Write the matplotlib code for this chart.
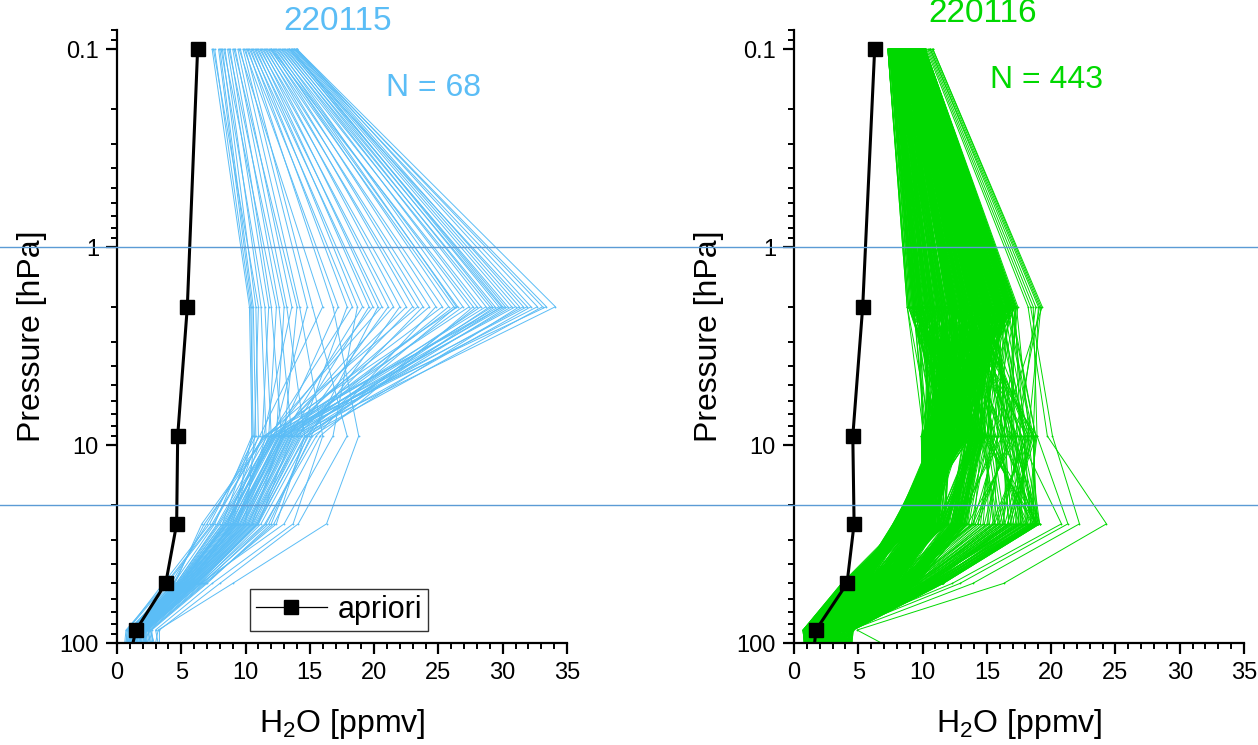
import numpy as np
import matplotlib
matplotlib.use("Agg")
import matplotlib.pyplot as plt
from matplotlib.lines import Line2D
from matplotlib import transforms
from matplotlib.ticker import MultipleLocator, LogLocator, NullFormatter

plt.rcParams['font.family'] = ['Liberation Sans', 'DejaVu Sans']
plt.rcParams['mathtext.fontset'] = 'custom'
plt.rcParams['mathtext.rm'] = 'Liberation Sans'


def vals(text):
    return np.array(text.split(), dtype=float)


# retrieval pressure levels [hPa]
levels = [0.1, 2, 9, 25, 50, 86, 100]

# a-priori profiles [ppmv] on the same levels
apriori_0115 = [6.27, 5.47, 4.72, 4.64, 3.79, 1.48, 1.24]
apriori_0116 = [6.27, 5.34, 4.57, 4.67, 4.12, 1.70, 1.60]

# reference pressure lines [hPa]
ref_pressures = [1, 20]

# ---- 220115 profiles, one value per profile at each level ----
blue_p01 = vals("""
7.4 7.6 7.9 8.0 8.2 7.5 8.4 8.1 8.6 8.8
8.3 9.0 8.7 9.2 9.4 9.1 9.6 9.8 10.0 9.5
10.2 9.9 10.4 10.1 10.6 10.3 10.8 10.5 11.0 10.7
11.2 10.9 11.4 11.1 11.6 11.3 11.8 11.5 12.0 11.7
12.2 11.9 12.4 12.1 12.6 12.3 12.8 12.5 13.0 12.7
13.2 12.9 13.4 13.1 13.5 13.3 13.6 13.7 13.8 13.9
13.4 14.0 13.8 14.0 13.9 14.0 13.6 12.0
""")
blue_p2 = vals("""
10.3 10.4 10.5 10.6 10.8 11.0 11.2 11.5 11.8 12.0
12.4 12.6 13.0 13.2 13.6 14.0 14.2 14.8 15.2 16.0
16.8 17.2 17.9 18.3 18.7 19.1 19.6 19.9 20.3 20.6
21.1 21.5 22.0 22.5 23.0 23.4 23.8 24.3 24.8 25.3
25.8 26.2 26.4 26.5 26.9 27.4 28.0 28.3 28.7 29.0
29.2 29.4 29.7 29.9 30.2 30.4 30.7 31.0 31.3 31.6
31.9 32.2 32.7 33.1 33.4 34.1 30.0 27.7
""")
blue_p9 = vals("""
10.5 10.6 10.5 10.8 11.0 10.7 11.6 12.0 11.3 12.8
11.8 13.6 12.4 14.6 11.4 13.0 16.0 12.2 17.9 11.1
18.8 12.6 14.2 11.9 16.8 12.9 13.4 12.1 15.1 11.7
13.8 12.5 14.8 12.3 13.2 11.5 14.0 12.7 15.5 12.0
13.5 12.8 14.4 11.6 13.1 12.2 14.9 13.3 12.4 13.9
12.9 14.6 11.9 13.6 12.6 14.1 13.0 12.3 15.2 13.4
12.7 14.3 13.0 14.7 12.1 13.7 11.4 15.8
""")
blue_p25 = vals("""
7.6 8.2 9.0 7.2 8.6 10.0 9.4 7.9 8.8 10.5
9.2 11.0 8.4 12.4 7.4 9.8 13.7 8.0 14.1 7.0
16.3 9.6 10.9 8.3 13.0 9.1 10.2 8.7 11.8 7.8
10.6 9.3 12.0 8.5 9.9 6.6 10.4 9.0 11.5 8.6
10.0 9.4 10.8 6.8 9.7 8.9 11.2 9.5 8.8 10.3
9.2 11.0 8.2 10.1 9.0 10.7 9.6 8.4 11.6 9.8
9.1 10.5 9.3 10.9 8.6 10.2 7.5 12.2
""")
blue_p50 = vals("""
4.4 4.8 5.2 3.6 5.0 5.6 5.4 4.6 5.8 6.0
4.9 6.3 5.1 6.8 3.8 5.7 7.4 4.7 8.0 4.2
9.0 5.5 6.2 5.0 6.5 5.3 5.9 4.9 6.6 4.6
6.1 5.4 7.0 4.8 5.6 4.5 6.0 5.2 6.4 4.9
5.8 5.5 6.2 4.4 5.6 5.1 6.5 5.3 5.0 5.9
5.4 6.3 4.7 5.7 5.2 6.1 5.5 4.8 6.7 5.6
5.1 6.0 5.3 6.2 4.9 5.8 3.9 6.9
""")
blue_p86 = vals("""
1.0 1.2 1.4 0.8 1.6 1.8 1.3 1.1 2.0 1.5
0.9 2.3 1.7 2.6 0.7 1.9 3.0 1.2 3.3 1.0
3.2 1.4 2.1 1.3 2.4 1.6 1.8 1.1 2.2 1.0
2.0 1.5 2.7 1.2 1.7 0.9 2.0 1.4 2.3 1.3
1.8 1.5 2.1 1.0 1.6 1.3 2.4 1.5 1.2 1.9
1.4 2.2 1.1 1.7 1.3 2.0 1.6 1.1 2.5 1.8
1.4 2.1 1.5 2.2 1.2 1.9 0.8 2.6
""")
blue_p100 = vals("""
0.9 1.1 1.3 0.7 1.5 1.7 1.2 1.0 2.2 1.4
0.8 2.5 1.6 2.9 0.6 1.8 3.2 1.1 3.3 1.0
3.0 1.3 2.0 1.2 2.6 1.5 1.9 1.0 2.4 0.9
2.1 1.4 2.8 1.1 1.6 0.8 1.9 1.3 2.2 1.2
1.7 1.6 2.3 0.9 1.5 1.2 2.6 1.4 1.1 1.8
1.3 2.1 1.0 1.8 1.2 2.2 1.5 1.0 2.7 1.7
1.3 2.0 1.6 2.3 1.1 1.8 0.7 2.8
""")

# ---- 220116 profiles, one value per profile at each level ----
green_p01 = vals("""
7.3 7.5 7.4 7.6 7.3 7.5 7.4 7.6 7.3 7.4 7.5 7.6 7.4 7.3 7.5 7.6 7.4 7.5 7.3 7.6
7.5 7.6 7.7 7.5 7.8 7.6 7.5 7.7 7.6 7.8 7.5 7.7 7.6 7.5 7.8 7.7 7.6 7.5 7.7 7.8
7.7 7.9 7.8 7.6 7.9 7.7 8.0 7.8 7.6 7.9 7.7 7.8 8.0 7.7 7.9 7.6 7.8 8.0 7.7 7.9
7.9 8.0 8.1 7.8 8.0 8.2 7.9 8.1 7.8 8.0 7.9 8.2 8.1 7.8 8.0 7.9 8.1 8.2 7.9 8.0
8.0 8.2 8.1 8.3 7.9 8.2 8.0 8.3 8.1 8.2 8.0 7.9 8.3 8.1 8.2 8.0 8.3 8.1 7.9 8.2
8.2 8.4 8.3 8.1 8.4 8.2 8.3 8.5 8.1 8.3 8.4 8.2 8.5 8.3 8.1 8.4 8.2 8.5 8.3 8.4
8.3 8.5 8.6 8.4 8.3 8.6 8.5 8.4 8.6 8.3 8.5 8.4 8.6 8.5 8.3 8.4 8.6 8.5 8.4 8.3
8.5 8.7 8.6 8.4 8.8 8.6 8.5 8.7 8.4 8.6 8.8 8.5 8.7 8.6 8.4 8.7 8.5 8.8 8.6 8.5
8.6 8.8 8.7 8.9 8.6 8.8 8.7 8.9 8.6 8.7 8.8 8.9 8.6 8.7 8.8 8.6 8.9 8.7 8.8 8.6
8.8 9.0 8.9 8.7 9.0 8.8 9.1 8.9 8.8 9.0 8.7 8.9 9.1 8.8 9.0 8.9 8.7 9.1 8.9 9.0
8.9 9.1 9.2 9.0 8.9 9.2 9.1 9.0 9.2 8.9 9.1 9.0 9.2 9.1 8.9 9.0 9.2 9.1 9.0 8.9
9.1 9.3 9.2 9.4 9.1 9.3 9.2 9.4 9.1 9.2 9.3 9.1 9.4 9.2 9.3 9.1 9.4 9.2 9.3 9.1
9.3 9.5 9.4 9.2 9.5 9.3 9.4 9.6 9.2 9.4 9.5 9.3 9.6 9.4 9.2 9.5 9.3 9.6 9.4 9.5
9.4 9.6 9.7 9.5 9.4 9.7 9.6 9.5 9.7 9.4 9.6 9.5 9.7 9.6 9.4 9.5 9.7 9.6 9.5 9.4
9.6 9.8 9.7 9.5 9.9 9.7 9.6 9.8 9.5 9.7 9.9 9.6 9.8 9.7 9.5 9.8 9.6 9.9 9.7 9.6
9.7 9.9 9.8 10.0 9.7 9.9 9.8 10.0 9.7 9.8 9.9 10.0 9.7 9.8 9.9 9.7 10.0 9.8 9.9 9.7
9.9 10.1 10.0 9.8 10.1 9.9 10.2 10.0 9.9 10.1 9.8 10.0 10.2 9.9 10.1 10.0 9.8 10.2 10.0 10.1
10.0 10.2 10.1 10.0 10.2 10.1 10.0 10.2 10.1 10.0 10.2 10.1 10.0 10.2 10.1 10.0 10.2 10.1 10.0 10.2
8.6 9.4 8.9 9.8 9.1 8.7 10.0 9.3 8.8 9.6 9.2 9.9 8.7 9.5 10.1 8.9 9.7 9.0 9.4 10.2
9.0 9.7 8.6 10.1 9.3 8.8 9.9 9.5 9.1 9.8 8.7 10.0 9.2 9.6 8.9 9.4 10.2 8.8 9.7 9.3
9.5 8.8 9.9 9.2 10.0 9.1 8.6 9.7 9.4 10.2 8.9 9.3 9.8 8.7 9.6 10.1 9.0 9.5 8.8 9.9
9.2 10.0 8.7 9.6 9.1 9.8 8.9 10.1 9.4 8.6 9.7 9.0 10.2 9.3 9.5
10.3 10.4 10.5 10.6 10.6 10.7 10.8 10.8
""")
green_p2 = vals("""
8.8 9.3 9.0 9.5 8.9 9.2 9.6 9.1 8.8 9.4 9.0 9.5 9.2 8.9 9.3 9.6 9.1 9.4 8.9 9.2
9.3 9.8 9.5 10.0 9.4 9.7 9.3 9.9 9.6 10.0 9.4 9.8 9.5 9.3 9.9 9.6 10.0 9.4 9.7 9.8
9.7 10.2 9.9 10.4 9.8 10.1 10.5 9.7 10.3 10.0 9.8 10.4 10.1 9.9 10.2 10.5 9.7 10.0 10.3 9.8
10.2 10.6 10.4 10.9 10.3 10.7 10.2 10.8 10.5 10.9 10.3 10.6 10.4 10.2 10.8 10.5 10.9 10.3 10.7 10.6
10.6 11.1 10.8 11.3 10.7 11.0 11.4 10.6 11.2 10.9 10.7 11.3 11.0 10.8 11.1 11.4 10.6 10.9 11.2 10.7
11.1 11.5 11.3 11.8 11.2 11.6 11.1 11.7 11.4 11.8 11.2 11.5 11.3 11.1 11.7 11.4 11.8 11.2 11.6 11.5
11.5 12.0 11.7 12.2 11.6 11.9 12.3 11.5 12.1 11.8 11.6 12.2 11.9 11.7 12.0 12.3 11.5 11.8 12.1 11.6
12.0 12.4 12.2 12.7 12.1 12.5 12.0 12.6 12.3 12.7 12.1 12.4 12.2 12.0 12.6 12.3 12.7 12.1 12.5 12.4
12.4 12.9 12.6 13.1 12.5 12.8 13.2 12.4 13.0 12.7 12.5 13.1 12.8 12.6 12.9 13.2 12.4 12.7 13.0 12.5
12.9 13.3 13.1 13.6 13.0 13.4 12.9 13.5 13.2 13.6 13.0 13.3 13.1 12.9 13.5 13.2 13.6 13.0 13.4 13.3
13.3 13.8 13.5 14.0 13.4 13.7 14.1 13.3 13.9 13.6 13.4 14.0 13.7 13.5 13.8 14.1 13.3 13.6 13.9 13.4
13.8 14.2 14.0 14.5 13.9 14.3 13.8 14.4 14.1 14.5 13.9 14.2 14.0 13.8 14.4 14.1 14.5 13.9 14.3 14.2
14.2 14.7 14.4 14.9 14.3 14.6 15.0 14.2 14.8 14.5 14.3 14.9 14.6 14.4 14.7 15.0 14.2 14.5 14.8 14.3
14.7 15.1 14.9 15.4 14.8 15.2 14.7 15.3 15.0 15.4 14.8 15.1 14.9 14.7 15.3 15.0 15.4 14.8 15.2 15.1
15.1 15.6 15.3 15.8 15.2 15.5 15.9 15.1 15.7 15.4 15.2 15.8 15.5 15.3 15.6 15.9 15.1 15.4 15.7 15.2
15.6 16.0 15.8 16.3 15.7 16.1 15.6 16.2 15.9 16.3 15.7 16.0 15.8 15.6 16.2 15.9 16.3 15.7 16.1 16.0
16.0 16.5 16.2 16.7 16.1 16.4 16.8 16.0 16.6 16.3 16.1 16.7 16.4 16.2 16.5 16.8 16.0 16.3 16.6 16.1
16.5 16.9 16.7 17.2 16.6 17.0 16.5 17.1 16.8 17.2 16.6 16.9 16.7 16.5 17.1 16.8 17.2 16.6 17.0 16.9
12.3 15.0 13.1 16.2 13.9 12.6 16.9 14.4 12.9 15.7 14.1 16.5 12.1 15.3 17.2 13.4 16.0 13.6 14.7 17.4
13.7 15.8 12.0 17.0 14.6 13.0 16.6 15.1 14.0 16.3 12.4 16.8 14.3 15.5 13.3 14.8 17.3 12.7 16.1 14.5
15.2 12.8 16.4 14.2 17.1 13.8 12.2 15.9 14.9 17.2 13.2 14.4 16.2 12.5 15.6 16.9 13.5 15.0 12.9 16.7
14.0 16.8 12.6 15.4 13.9 16.1 13.1 17.0 14.6 12.3 15.8 13.7 17.3 14.3 15.1
18.2 18.4 18.6 18.8 19.0 19.1 19.2 19.3
""")
green_p9 = vals("""
10.1 11.6 12.3 10.4 13.1 11.0 12.8 14.2 10.7 12.0 13.6 11.3 14.6 12.6 10.2 13.4 11.8 14.0 12.2 11.1
10.3 11.9 12.0 10.6 13.4 10.8 13.1 13.9 10.9 12.3 13.3 11.5 14.4 12.9 10.0 13.7 11.6 14.3 12.5 11.4
10.0 11.3 12.6 10.2 12.8 11.3 12.5 14.5 10.5 11.7 13.9 11.1 14.8 12.3 10.4 13.1 12.1 13.7 11.9 10.9
10.5 11.8 12.4 10.8 13.3 11.2 13.0 14.0 11.0 12.2 13.8 11.6 14.5 12.8 10.3 13.6 12.0 14.2 12.4 11.3
10.2 11.4 12.1 10.3 12.9 10.9 12.6 14.4 10.6 11.9 13.5 11.2 14.7 12.4 10.1 13.2 11.7 13.9 12.0 11.0
10.4 11.7 12.5 10.5 13.2 11.1 12.9 14.1 10.8 12.1 13.7 11.4 14.3 12.7 10.5 13.5 11.9 14.1 12.3 11.2
9.9 11.5 12.2 10.7 13.0 11.4 12.7 14.3 10.4 12.4 13.4 11.0 14.6 12.5 10.2 13.3 12.2 13.8 12.1 11.5
10.6 11.2 12.7 10.1 13.5 10.7 13.2 14.6 11.1 11.8 14.0 11.7 14.2 13.0 10.0 13.0 11.5 14.4 12.6 10.8
10.1 11.9 12.0 10.4 12.7 11.2 12.4 13.8 10.7 12.2 13.2 11.3 14.9 12.2 10.6 13.8 11.9 14.0 11.8 11.3
10.3 11.6 12.4 10.9 13.3 11.0 13.0 14.2 10.5 12.0 13.6 11.5 14.5 12.7 10.3 13.4 11.7 13.6 12.4 11.0
10.0 11.4 12.8 10.3 13.0 10.8 12.6 14.5 10.9 11.6 13.9 11.1 14.7 12.4 10.1 13.1 12.0 14.3 12.2 11.4
10.5 11.8 12.2 10.6 13.4 11.3 12.9 14.0 10.6 12.3 13.5 11.6 14.4 12.9 10.4 13.6 11.8 14.1 12.0 11.2
10.2 11.5 12.5 10.2 12.8 11.1 12.7 14.3 10.8 11.9 13.7 11.2 14.6 12.6 9.9 13.3 12.1 13.9 12.5 10.9
10.4 11.7 12.1 10.7 13.2 10.9 13.1 14.1 10.4 12.1 13.3 11.4 14.8 12.3 10.2 13.5 11.6 14.2 12.3 11.3
10.1 11.3 12.6 10.5 13.1 11.4 12.5 14.4 11.0 11.8 13.8 11.0 14.3 12.8 10.5 13.2 11.9 14.0 11.9 11.1
10.6 11.9 12.3 10.3 12.9 11.0 12.8 14.6 10.7 12.4 13.6 11.7 14.5 12.5 10.0 13.7 12.2 13.7 12.6 11.5
10.3 11.6 12.7 10.8 13.3 11.2 13.0 13.9 10.5 12.0 14.0 11.3 14.7 13.0 10.3 13.0 11.7 14.4 12.2 10.8
10.0 11.5 12.0 10.4 13.0 10.8 12.6 14.2 10.9 12.2 13.4 11.5 14.4 12.7 10.1 13.4 12.0 14.1 12.1 11.2
14.6 15.3 16.1 17.4 18.2 14.9 18.8 16.7 15.6 17.9 16.4 18.5 15.0 17.1 16.9 14.7 18.0 15.9 17.6 16.3
14.9 15.0 16.5 17.1 18.5 15.2 18.6 17.0 15.3 18.2 16.1 18.8 15.4 16.8 17.2 14.5 18.3 15.6 17.9 16.6
15.1 15.7 15.8 17.7 17.9 14.6 18.9 16.4 15.9 17.6 16.8 18.2 14.8 17.4 16.6 15.0 17.7 16.2 17.3 16.0
14.8 15.5 16.3 17.2 18.4 15.1 18.7 16.9 15.4 18.1 16.2 18.6 15.2 16.9 17.0
19.7 20.1 18.9 17.5 18.6 17.2 18.2 16.1
""")
green_p25 = vals("""
10.4 7.8 8.6 9.9 9.4 10.8 8.1 11.5 10.1 9.1 12.2 8.3 13.0 10.5 10.0 8.9 11.2 12.6 9.6 7.9
10.7 8.2 8.9 10.3 9.0 11.2 8.5 11.1 10.5 9.5 12.6 8.7 13.4 10.1 10.4 9.3 10.8 13.0 9.9 8.3
10.1 7.7 8.3 9.6 9.8 10.4 8.0 11.9 9.8 8.8 11.8 8.1 12.6 10.9 9.7 8.6 11.6 12.2 9.3 8.0
10.9 8.4 9.1 10.2 9.6 11.0 8.7 11.7 10.3 9.4 12.4 8.5 13.2 10.7 10.2 9.1 11.4 12.9 9.8 8.2
10.2 7.9 8.5 9.7 9.2 10.6 8.2 11.3 9.9 9.0 12.0 8.0 12.8 10.3 9.9 8.8 11.0 12.4 9.5 7.8
10.6 8.1 8.8 10.1 9.5 10.9 8.4 11.6 10.2 9.3 12.3 8.4 13.1 10.6 10.1 9.0 11.3 12.7 9.7 8.1
10.0 7.7 8.4 9.5 9.9 11.3 7.9 11.8 10.6 9.2 12.7 8.2 12.9 10.4 10.5 8.7 11.7 12.5 9.4 8.4
10.8 8.3 9.0 10.4 9.1 10.5 8.6 11.2 9.7 8.9 11.9 8.8 13.3 10.8 9.8 9.2 10.9 12.8 10.0 7.9
10.3 8.0 8.7 9.8 9.7 11.1 8.3 11.4 10.0 9.6 12.1 8.3 12.7 10.2 10.3 8.9 11.5 12.3 9.6 8.2
10.5 7.8 8.5 10.0 9.3 10.7 8.0 11.9 10.4 9.1 12.5 8.6 13.5 10.9 10.0 8.6 11.1 12.9 9.2 8.0
10.1 8.2 8.9 9.6 9.6 10.8 8.5 11.5 9.9 8.8 12.2 8.1 13.0 10.5 9.7 9.4 11.8 12.6 9.9 8.3
10.7 7.9 8.4 10.3 9.2 11.2 8.2 11.1 10.3 9.4 11.8 8.5 12.8 10.1 10.4 8.8 11.0 13.1 9.5 7.8
10.4 8.1 8.7 9.9 9.8 10.6 7.9 11.7 10.7 9.0 12.4 8.7 13.3 10.7 10.1 9.1 11.4 12.2 9.8 8.1
10.0 7.7 8.6 10.1 9.4 11.0 8.4 11.3 10.1 9.5 12.0 8.0 12.9 10.3 9.8 8.7 11.2 12.7 9.3 8.4
10.9 8.3 8.8 9.7 9.0 10.9 8.1 11.8 9.8 9.2 12.6 8.4 13.2 10.8 10.2 9.0 10.8 12.4 10.0 7.9
10.2 8.0 8.3 10.2 9.7 10.5 8.6 11.4 10.5 8.9 12.3 8.2 12.6 10.4 10.0 9.3 11.6 12.8 9.6 8.2
10.6 7.8 9.0 9.8 9.5 11.3 8.0 11.6 10.2 9.3 11.9 8.6 13.4 10.6 10.4 8.8 11.3 12.5 9.4 8.0
10.3 8.2 8.5 10.0 9.3 10.7 8.3 11.2 10.0 9.1 12.5 8.3 13.1 10.2 9.9 8.9 11.1 13.0 9.7 8.3
18.8 17.9 15.2 19.0 16.4 13.6 18.4 17.3 14.3 15.8 18.6 17.0 16.0 13.9 19.1 15.5 17.6 12.8 18.1 16.7
18.5 18.2 14.8 18.7 16.8 13.2 18.8 17.7 14.7 15.4 18.9 16.6 16.4 14.3 18.9 15.9 17.2 13.2 18.4 16.3
18.9 17.5 15.6 19.1 16.0 14.0 18.1 16.9 13.9 16.2 18.3 17.4 15.6 13.5 18.7 15.1 18.0 12.6 17.8 17.1
18.6 18.0 15.0 18.8 16.6 13.8 18.6 17.5 14.5 15.6 18.8 16.8 16.2 14.1 19.0
24.3 22.2 21.3 20.8 18.9 17.6 19.1 16.7
""")
green_p50 = vals("""
6.2 5.0 3.8 7.1 4.4 8.0 5.6 6.6 7.6 4.1 8.5 5.3 9.2 6.9 5.9 4.7 7.3 8.8 6.0 4.9
6.5 5.3 4.1 7.4 4.2 8.3 5.9 6.3 7.9 4.4 8.8 5.6 9.5 6.6 6.2 5.0 7.0 9.1 6.3 5.2
5.9 4.8 3.7 6.8 4.7 7.7 5.4 6.9 7.3 3.9 8.2 5.1 8.9 7.2 5.6 4.5 7.6 8.5 5.8 4.7
6.4 5.2 4.0 7.3 4.5 8.2 5.8 6.8 7.8 4.3 8.7 5.5 9.3 7.0 6.1 4.9 7.4 9.0 6.2 5.1
6.0 4.9 3.9 6.9 4.3 7.8 5.5 6.4 7.4 4.0 8.3 5.2 9.0 6.7 5.7 4.6 7.1 8.6 5.9 4.8
6.3 5.1 4.2 7.2 4.6 8.1 5.7 6.7 7.7 4.2 8.6 5.4 9.4 6.8 6.0 4.8 7.2 8.9 6.1 5.0
6.6 4.8 3.8 7.5 4.8 8.4 5.3 6.5 8.0 4.5 8.4 5.0 9.1 7.3 5.8 5.1 7.7 8.7 5.7 5.3
5.8 5.4 4.3 6.7 4.1 7.6 6.0 7.0 7.2 3.9 8.9 5.7 9.6 6.5 6.3 4.4 6.9 9.2 6.4 4.6
6.1 5.1 3.9 7.0 4.5 8.1 5.5 6.7 7.5 4.2 8.4 5.4 9.1 6.9 6.0 4.8 7.3 8.7 6.1 4.9
6.4 4.9 4.0 7.4 4.3 7.9 5.8 6.4 7.8 4.0 8.7 5.2 9.4 6.7 5.7 4.6 7.5 9.0 5.8 5.1
6.0 5.2 3.8 6.9 4.6 8.3 5.4 6.8 7.4 4.4 8.3 5.5 9.0 7.1 6.1 4.9 7.1 8.6 6.2 4.7
6.5 5.3 4.1 7.2 4.2 7.7 5.9 6.5 7.9 4.1 8.8 5.1 9.3 6.8 5.8 4.5 7.4 8.9 5.9 5.2
5.9 4.8 3.9 7.3 4.7 8.2 5.6 6.9 7.6 4.3 8.6 5.6 9.5 7.0 6.2 5.0 7.2 8.5 6.3 4.8
6.3 5.1 4.2 6.8 4.4 8.0 5.3 6.3 7.3 3.9 8.4 5.4 8.9 6.6 5.9 4.7 7.6 9.1 6.0 5.0
6.2 5.0 3.7 7.1 4.5 8.4 5.7 6.7 7.7 4.2 8.9 5.2 9.2 7.2 5.6 4.8 7.0 8.8 5.8 4.9
6.6 5.4 4.0 7.5 4.3 7.8 5.5 6.6 8.0 4.0 8.5 5.7 9.6 6.9 6.1 4.6 7.3 8.7 6.2 5.3
6.1 4.9 3.8 7.0 4.6 8.1 5.8 6.4 7.5 4.4 8.2 5.3 9.1 6.7 6.0 4.9 7.7 9.0 6.1 4.7
6.4 5.2 4.1 7.2 4.4 7.9 5.6 6.8 7.8 4.1 8.7 5.5 9.3 7.0 5.8 4.7 7.1 8.6 5.9 5.1
11.2 10.6 9.4 11.5 10.1 8.2 11.0 10.4 8.8 9.7 11.4 10.3 9.9 8.0 11.6 9.1 10.8 7.6 10.5 9.6
10.9 10.9 9.1 11.2 10.4 8.5 11.3 10.1 9.1 9.4 11.1 10.6 10.2 8.3 11.3 9.4 10.5 7.9 10.8 9.3
11.4 10.3 9.7 11.6 9.8 7.9 10.7 10.7 8.5 10.0 11.5 10.0 9.6 7.7 11.5 8.8 11.1 7.5 10.2 9.9
11.0 10.7 9.2 11.3 10.2 8.4 11.2 10.2 9.0 9.5 11.3 10.4 10.0 8.2 11.4
16.3 13.9 12.9 12.3 11.4 10.8 11.6 10.2
""")
green_p86 = vals("""
2.0 1.4 0.8 2.6 1.1 3.0 1.7 2.3 2.8 1.0 3.2 1.6 3.4 2.2 1.9 1.3 2.5 3.1 1.5 1.2
2.2 1.6 1.0 2.4 1.3 2.8 1.9 2.1 3.0 0.9 3.4 1.4 3.2 2.4 1.7 1.5 2.7 2.9 1.7 1.0
1.8 1.2 0.7 2.8 1.0 3.2 1.5 2.5 2.6 1.2 3.0 1.8 3.5 2.0 2.1 1.1 2.3 3.3 1.3 1.4
2.1 1.5 0.9 2.5 1.2 2.9 1.8 2.4 2.9 1.1 3.3 1.5 3.3 2.3 1.8 1.4 2.6 3.0 1.6 1.1
1.9 1.3 0.8 2.7 1.0 3.1 1.6 2.2 2.7 0.9 3.1 1.7 3.5 2.1 2.0 1.2 2.4 3.2 1.4 1.3
2.3 1.4 1.1 2.6 1.4 3.0 1.7 2.0 2.8 1.0 3.2 1.6 3.1 2.5 1.9 1.6 2.8 3.1 1.8 1.2
1.7 1.6 0.7 2.9 1.1 2.7 2.0 2.6 3.1 1.3 3.4 1.3 3.4 1.9 1.6 1.3 2.2 2.8 1.5 0.9
2.0 1.1 0.9 2.3 1.2 3.3 1.4 2.3 2.5 0.8 2.9 1.9 3.2 2.2 2.2 1.0 2.5 3.4 1.2 1.5
2.2 1.5 0.8 2.6 0.9 3.0 1.8 2.4 2.8 1.1 3.2 1.5 3.5 2.3 1.8 1.4 2.6 3.0 1.6 1.1
1.8 1.3 1.0 2.7 1.3 2.8 1.6 2.1 3.0 1.0 3.3 1.7 3.3 2.0 2.0 1.2 2.4 3.2 1.4 1.3
2.1 1.4 0.7 2.5 1.1 3.1 1.9 2.5 2.6 0.9 3.0 1.6 3.4 2.4 1.7 1.5 2.7 2.9 1.7 1.0
1.9 1.7 0.9 2.8 1.0 2.9 1.5 2.2 2.9 1.2 3.4 1.4 3.2 2.1 2.1 1.1 2.3 3.3 1.3 1.4
2.3 1.2 0.8 2.4 1.4 3.2 1.7 2.0 2.7 1.0 3.1 1.8 3.5 2.5 1.9 1.3 2.8 3.0 1.8 1.2
1.7 1.5 1.1 2.9 1.2 3.0 2.0 2.6 3.1 0.8 3.2 1.5 3.1 2.2 1.6 1.6 2.5 3.1 1.5 0.9
2.0 1.4 0.7 2.6 1.0 2.7 1.6 2.3 2.8 1.1 2.9 1.6 3.4 1.9 2.2 1.2 2.2 3.4 1.6 1.1
2.2 1.3 0.9 2.5 1.3 3.3 1.8 2.4 2.5 1.0 3.3 1.9 3.3 2.3 1.8 1.4 2.6 2.8 1.4 1.3
1.8 1.6 0.8 2.7 1.1 3.0 1.5 2.1 3.0 1.2 3.1 1.4 3.5 2.0 2.0 1.0 2.4 3.2 1.7 1.0
2.1 1.2 1.0 2.8 1.2 2.9 1.9 2.5 2.9 0.9 3.4 1.7 3.2 2.4 1.7 1.5 2.7 3.0 1.3 1.4
4.3 4.0 3.4 4.5 3.8 2.9 4.2 3.9 3.1 3.6 4.4 3.7 3.5 2.8 4.6 3.3 4.1 2.6 4.0 3.5
4.1 4.2 3.2 4.4 4.0 3.1 4.4 3.7 3.3 3.4 4.2 3.9 3.7 3.0 4.5 3.5 3.9 2.8 4.2 3.3
4.5 3.8 3.6 4.6 3.6 2.7 4.0 4.1 2.9 3.8 4.5 3.5 3.3 2.6 4.4 3.1 4.3 2.5 3.8 3.7
4.2 4.1 3.3 4.3 3.9 3.0 4.3 3.8 3.2 3.5 4.3 3.8 3.6 2.9 4.6
4.9 4.4 3.9 3.6 3.2 3.0 3.4 2.8
""")
green_p100 = vals("""
2.1 1.3 0.9 2.8 1.2 3.3 1.6 2.4 2.6 1.1 3.5 1.8 3.9 2.0 2.2 1.4 2.7 3.0 1.7 1.0
2.3 1.5 1.1 2.6 1.4 3.1 1.8 2.2 2.8 1.0 3.7 1.6 3.7 2.2 2.0 1.6 2.9 2.8 1.9 0.9
1.9 1.1 0.8 3.0 1.1 3.5 1.4 2.6 2.4 1.3 3.3 2.0 4.1 1.8 2.4 1.2 2.5 3.2 1.5 1.2
2.2 1.4 1.0 2.7 1.3 3.2 1.7 2.5 2.7 1.2 3.6 1.7 3.8 2.1 2.1 1.5 2.8 2.9 1.8 1.1
2.0 1.2 0.9 2.9 1.1 3.4 1.5 2.3 2.5 1.0 3.4 1.9 4.0 1.9 2.3 1.3 2.6 3.1 1.6 1.0
2.4 1.3 1.2 2.8 1.5 3.3 1.6 2.1 2.6 1.1 3.5 1.8 3.6 2.3 2.2 1.7 3.0 3.0 2.0 1.2
1.8 1.5 0.8 3.1 1.2 3.0 1.9 2.7 2.9 1.4 3.8 1.5 3.9 1.7 1.9 1.4 2.4 2.7 1.7 0.8
2.1 1.0 1.0 2.5 1.3 3.6 1.3 2.4 2.3 0.9 3.2 2.1 3.7 2.0 2.5 1.1 2.7 3.3 1.4 1.4
2.3 1.4 0.9 2.8 1.0 3.3 1.7 2.5 2.6 1.2 3.5 1.7 4.0 2.1 2.1 1.5 2.8 2.9 1.8 1.0
1.9 1.2 1.1 2.9 1.4 3.1 1.5 2.2 2.8 1.1 3.6 1.9 3.8 1.8 2.3 1.3 2.6 3.1 1.6 1.2
2.2 1.3 0.8 2.7 1.2 3.4 1.8 2.6 2.4 1.0 3.3 1.8 3.9 2.2 2.0 1.6 2.9 2.8 1.9 0.9
2.0 1.6 1.0 3.0 1.1 3.2 1.4 2.3 2.7 1.3 3.7 1.6 3.7 1.9 2.4 1.2 2.5 3.2 1.5 1.3
2.4 1.1 0.9 2.6 1.5 3.5 1.6 2.1 2.5 1.1 3.4 2.0 4.1 2.3 2.2 1.4 3.0 2.9 2.0 1.1
1.8 1.4 1.2 3.1 1.3 3.3 1.9 2.7 2.9 0.9 3.5 1.7 3.6 2.0 1.9 1.7 2.7 3.0 1.7 0.8
2.1 1.3 0.8 2.8 1.1 3.0 1.5 2.4 2.6 1.2 3.2 1.8 3.9 1.7 2.5 1.3 2.4 3.3 1.8 1.0
2.3 1.2 1.0 2.7 1.4 3.6 1.7 2.5 2.3 1.1 3.6 2.1 3.8 2.1 2.1 1.5 2.8 2.7 1.6 1.2
1.9 1.5 0.9 2.9 1.2 3.3 1.4 2.2 2.8 1.3 3.4 1.6 4.0 1.8 2.3 1.1 2.6 3.1 1.9 0.9
2.2 1.1 1.1 3.0 1.3 3.2 1.8 2.6 2.7 1.0 3.7 1.9 3.7 2.2 2.0 1.6 2.9 2.9 1.5 1.3
4.0 3.8 3.5 4.3 3.6 3.1 4.4 4.1 3.3 3.4 4.2 3.9 3.7 3.0 4.5 3.2 3.9 2.8 4.2 3.6
3.8 4.0 3.3 4.1 3.8 3.3 4.2 3.9 3.5 3.2 4.0 4.1 3.9 3.2 4.4 3.4 3.7 3.0 4.4 3.4
4.2 3.6 3.7 4.4 3.4 2.9 4.5 4.3 3.1 3.6 4.4 3.7 3.5 2.8 4.3 3.0 4.1 2.6 4.0 3.8
3.9 3.9 3.4 4.2 3.7 3.2 4.3 4.0 3.4 3.3 4.1 4.0 3.8 3.1 4.5
6.8 4.5 4.1 3.7 3.4 3.1 3.0 2.7
""")

blue_profiles = np.vstack([blue_p01, blue_p2, blue_p9, blue_p25,
                           blue_p50, blue_p86, blue_p100])
green_profiles = np.vstack([green_p01, green_p2, green_p9, green_p25,
                            green_p50, green_p86, green_p100])

BLUE = '#5bbdf6'
GREEN = '#00d800'
REF_LINE = '#5b9bd5'

fig = plt.figure(figsize=(12.58, 7.45), dpi=100)
ax_l = fig.add_axes([0.0930, 0.1369, 0.3577, 0.8228])
ax_r = fig.add_axes([0.6312, 0.1369, 0.3577, 0.8228])


def style_axis(ax):
    ax.set_yscale('log')
    ax.set_ylim(100, 0.08)
    ax.set_xlim(0, 35)
    ax.set_yticks([0.1, 1, 10, 100])
    ax.set_yticklabels(['0.1', '1', '10', '100'])
    ax.yaxis.set_minor_locator(LogLocator(base=10, subs=np.arange(2, 10)))
    ax.yaxis.set_minor_formatter(NullFormatter())
    ax.xaxis.set_major_locator(MultipleLocator(5))
    ax.xaxis.set_minor_locator(MultipleLocator(1))
    for side in ('top', 'right'):
        ax.spines[side].set_visible(False)
    for side in ('left', 'bottom'):
        ax.spines[side].set_linewidth(1.6)
    ax.tick_params(which='major', direction='out', length=8, width=1.6,
                   labelsize=17)
    ax.tick_params(which='minor', direction='out', length=4.5, width=1.4)
    ax.tick_params(axis='x', which='major', pad=6)
    ax.tick_params(axis='y', which='major', pad=5)
    ax.set_xlabel(r'H$_\mathregular{2}$O [ppmv]', fontsize=23, va='center')
    ax.set_ylabel('Pressure [hPa]', fontsize=23, va='center')
    ax.xaxis.set_label_coords(0.5, -0.132)
    ax.yaxis.set_label_coords(-0.189, 0.5)


for ax, prof, col, apr in ((ax_l, blue_profiles, BLUE, apriori_0115),
                           (ax_r, green_profiles, GREEN, apriori_0116)):
    ax.plot(prof, levels, color=col, lw=0.7, marker='o', ms=1.3,
            mew=0, zorder=2)
    ax.plot(apr, levels, color='black', lw=2.2, marker='s', ms=10,
            markevery=list(range(len(levels) - 1)), zorder=5)
    style_axis(ax)

handle = Line2D([], [], color='black', lw=0.9, marker='s', ms=10)
leg = ax_l.legend([handle], ['apriori'], loc='lower left',
                  bbox_to_anchor=(0.296, 0.0196), borderaxespad=0,
                  fontsize=22, frameon=True, fancybox=False,
                  borderpad=0.2, handlelength=2.3, handletextpad=0.35)
leg.get_frame().set_edgecolor('black')
leg.get_frame().set_linewidth(1.0)

fig.text(338 / 1258, 1 - 22 / 745, '220115', ha='center', va='center',
         fontsize=24, color=BLUE)
fig.text(983 / 1258, 1 - 13 / 745, '220116', ha='center', va='center',
         fontsize=24, color=GREEN)
fig.text(433 / 1258, 1 - 88 / 745, f'N = {blue_profiles.shape[1]}',
         ha='center', va='center', fontsize=23, color=BLUE)
fig.text(1047 / 1258, 1 - 80 / 745, f'N = {green_profiles.shape[1]}',
         ha='center', va='center', fontsize=23, color=GREEN)

# reference pressure lines running across the whole figure
ref_tr = transforms.blended_transform_factory(fig.transFigure, ax_l.transData)
for p in ref_pressures:
    fig.add_artist(Line2D([0, 1], [p, p], transform=ref_tr, color=REF_LINE,
                          lw=1.0, zorder=10))

fig.savefig('out.png', dpi=100)
